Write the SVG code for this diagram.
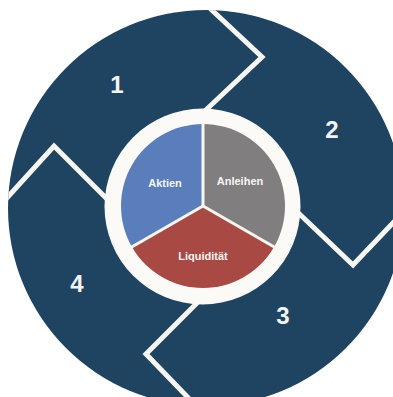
<svg xmlns="http://www.w3.org/2000/svg" width="393" height="397" viewBox="0 0 393 397">
  <style>
    .divider { fill: none; stroke: #f8f6f0; stroke-width: 5; stroke-linejoin: miter; stroke-linecap: butt; }
    .num { font-family: "Liberation Sans", Arial, sans-serif; font-weight: bold; font-size: 24px; fill: #f4f4f4; text-anchor: middle; }
    .lbl { font-family: "Liberation Sans", Arial, sans-serif; font-weight: bold; font-size: 11px; fill: #f6f6f6; text-anchor: middle; }
    .gap { stroke: #f8f6f0; stroke-width: 3; }
  </style>
  <defs>
    <clipPath id="disc">
      <circle cx="206" cy="208" r="198"/>
    </clipPath>
  </defs>

  <rect width="393" height="397" fill="#ffffff"/>

  <!-- outer disc -->
  <g id="disc-base">
    <circle cx="206" cy="208" r="198" fill="#1f4461"/>
  </g>

  <!-- zigzag separators between the four quadrants -->
  <g id="connectors" clip-path="url(#disc)">
    <polyline class="divider" points="200,-1 262,57 190,125"/>
    <polyline class="divider" points="-5,211 54,146 120,212"/>
    <polyline class="divider" points="290,205 353,265 412,203"/>
    <polyline class="divider" points="210,290 146,354 200,410"/>
  </g>

  <!-- quadrant numbers -->
  <g id="q1"><text class="num" x="117" y="93">1</text></g>
  <g id="q2"><text class="num" x="332" y="138">2</text></g>
  <g id="q3"><text class="num" x="283" y="324">3</text></g>
  <g id="q4"><text class="num" x="77" y="292">4</text></g>

  <!-- central ring -->
  <g id="ring">
    <circle cx="202.5" cy="206.5" r="98" fill="#fbfaf7"/>
  </g>

  <!-- pie chart -->
  <g id="aktien">
    <path d="M203,206 L203,124 A82,82 0 0 0 131.99,247 Z" fill="#5a7dbb"/>
    <text class="lbl" x="165" y="187">Aktien</text>
  </g>
  <g id="anleihen">
    <path d="M203,206 L203,124 A82,82 0 0 1 274.01,247 Z" fill="#807e7e"/>
    <text class="lbl" x="240" y="185">Anleihen</text>
  </g>
  <g id="liquiditaet">
    <path d="M203,206 L274.01,247 A82,82 0 0 1 131.99,247 Z" fill="#a84a43"/>
    <text class="lbl" x="203" y="260">Liquidität</text>
  </g>
  <g id="pie-gaps">
    <line class="gap" x1="203" y1="206" x2="203" y2="122"/>
    <line class="gap" x1="203" y1="206" x2="276" y2="248"/>
    <line class="gap" x1="203" y1="206" x2="130" y2="248"/>
  </g>
</svg>
